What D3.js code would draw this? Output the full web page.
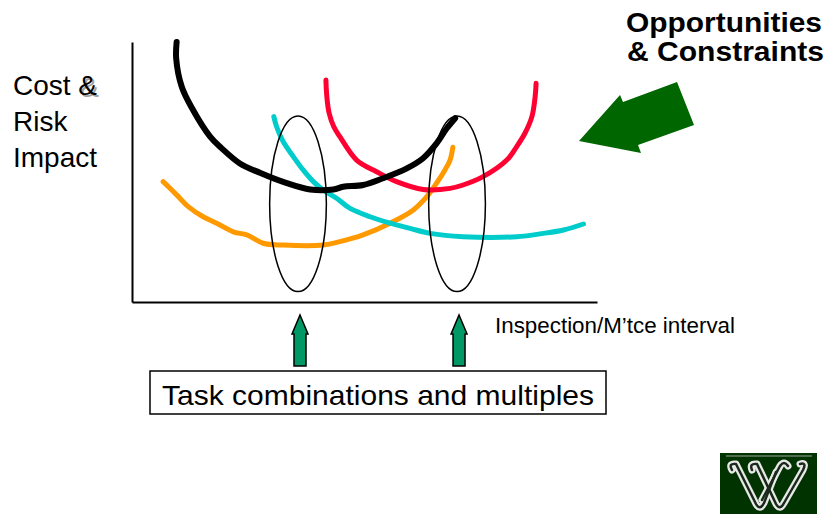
<!DOCTYPE html>
<html>
<head>
<meta charset="utf-8">
<script src="https://cdn.jsdelivr.net/npm/d3@7"></script>
<style>
  body { margin: 0; background: #fff; }
  text { font-family: "Liberation Sans", Arial, sans-serif; }
  .amp { text-shadow: 2px 2px 0 #a0a0a0; }
</style>
</head>
<body>
<script>
// curve data, interval (x) vs cost & risk impact (y), both 0..100
const blackX = [9.6, 9.5, 10.7, 12.8, 16.8, 19.3, 23.2, 27.5, 33.3, 38.3, 43.3, 45.4, 49.7, 54.0, 59.1, 62.6, 65.5, 67.7, 69.5]
const blackY = [100, 93.7, 82.8, 74.9, 63.6, 59.1, 53.3, 49.7, 45.7, 43.3, 43.3, 44.3, 45.0, 47.6, 51.4, 55.3, 61.0, 66.8, 70.7]

const redX = [41.7, 41.9, 42.4, 43.4, 44.7, 48.3, 52.6, 56.9, 62.6, 68.4, 71.2, 75.5, 80.6, 82.7, 84.5, 86.0, 86.7, 86.9]
const redY = [85.4, 79.0, 72.6, 67.4, 63.6, 54.6, 50.1, 46.3, 43.3, 43.7, 45.0, 48.2, 54.6, 59.7, 64.9, 71.3, 79.0, 84.1]

const cyanX = [30.5, 31.1, 32.5, 34.7, 36.8, 39.0, 41.1, 44.0, 46.9, 51.2, 55.5, 59.8, 64.1, 71.2, 82.7, 88.5, 92.8, 97.1]
const cyanY = [71.3, 67.4, 61.7, 55.9, 50.8, 46.3, 43.1, 39.9, 36.0, 32.8, 30.3, 28.3, 26.4, 25.1, 25.1, 26.4, 27.7, 30.0]

const orangeX = [6.7, 9.6, 12.1, 15.3, 18.2, 21.8, 24.7, 28.2, 32.5, 41.1, 44.7, 49.7, 55.5, 60.5, 63.4, 65.5, 67.3, 68.4, 69.0]
const orangeY = [46.3, 41.2, 36.7, 32.8, 30.3, 27.0, 25.8, 22.6, 21.9, 21.9, 23.2, 25.8, 30.3, 35.4, 40.5, 45.7, 50.8, 54.6, 59.5]

// task combination intervals (ellipse centres), ellipse spread
const taskX = [35.7, 69.9]
const taskYRange = [4, 71.5]
const taskHalfWidth = 6.1

const seriesColors = ['#000000', '#ff0033', '#00cccc', '#ff9900']

const margin = {top: 42, right: 229, bottom: 213, left: 132}
, width = 826 - margin.left - margin.right
, height = 515 - margin.top - margin.bottom

const svg = d3.select('body').append('svg')
    .attr('width', 826)
    .attr('height', 515)

const xScale = d3.scaleLinear().domain([0, 100]).range([margin.left, margin.left + width])
const yScale = d3.scaleLinear().domain([0, 100]).range([margin.top + height, margin.top])

// axes, no ticks
svg.append('g')
    .attr('transform', 'translate(0,' + (margin.top + height) + ')')
    .call(d3.axisBottom(xScale).tickValues([]).tickSizeOuter(0))
    .select('.domain').attr('stroke-width', 2)

svg.append('g')
    .attr('transform', 'translate(' + margin.left + ',0)')
    .call(d3.axisLeft(yScale).tickValues([]).tickSizeOuter(0))
    .select('.domain').attr('stroke-width', 2)

const line = d3.line()
    .x(d => xScale(d[0]))
    .y(d => yScale(d[1]))
    .curve(d3.curveCatmullRom.alpha(0.5))

const series = [
  {xs: orangeX, ys: orangeY, color: seriesColors[3], w: 5},
  {xs: cyanX, ys: cyanY, color: seriesColors[2], w: 5},
  {xs: redX, ys: redY, color: seriesColors[1], w: 5},
  {xs: blackX, ys: blackY, color: seriesColors[0], w: 6}
]

svg.selectAll('.curve').data(series)
  .enter()
  .append('path')
    .attr('class', 'curve')
    .attr('d', s => line(s.xs.map((x, i) => [x, s.ys[i]])))
    .attr('fill', 'none')
    .attr('stroke', s => s.color)
    .attr('stroke-width', s => s.w)
    .attr('stroke-linejoin', 'round')
    .attr('stroke-linecap', 'round')

// ellipses around the task combinations
svg.selectAll('.task').data(taskX)
  .enter()
  .append('ellipse')
    .attr('class', 'task')
    .attr('cx', d => xScale(d))
    .attr('cy', yScale((taskYRange[0] + taskYRange[1]) / 2))
    .attr('rx', xScale(taskHalfWidth) - xScale(0))
    .attr('ry', (yScale(taskYRange[0]) - yScale(taskYRange[1])) / 2)
    .attr('fill', 'none')
    .attr('stroke', '#000')
    .attr('stroke-width', 1.5)

// small up arrows under each ellipse
const arrowPath = function(cx) {
  const tip = 315, bottom = 366, headBase = 334
  return 'M' + cx + ',' + tip +
    'L' + (cx + 8) + ',' + headBase +
    'L' + (cx + 6) + ',' + headBase +
    'L' + (cx + 6) + ',' + bottom +
    'L' + (cx - 6) + ',' + bottom +
    'L' + (cx - 6) + ',' + headBase +
    'L' + (cx - 8) + ',' + headBase + 'Z'
}
svg.selectAll('.up').data(taskX)
  .enter()
  .append('path')
    .attr('class', 'up')
    .attr('d', d => arrowPath(xScale(d) + 2))
    .attr('fill', '#009966')
    .attr('stroke', '#000')
    .attr('stroke-width', 1.5)

// box label
svg.append('rect')
    .attr('x', 150).attr('y', 371)
    .attr('width', 456).attr('height', 43)
    .attr('fill', '#fff')
    .attr('stroke', '#000')
    .attr('stroke-width', 1.5)

svg.append('text')
    .attr('x', 162).attr('y', 405)
    .attr('textLength', 432).attr('lengthAdjust', 'spacingAndGlyphs')
    .style('font-size', '28px')
    .text('Task combinations and multiples')

svg.append('text')
    .attr('x', 495).attr('y', 333)
    .attr('textLength', 240).attr('lengthAdjust', 'spacingAndGlyphs')
    .style('font-size', '22px')
    .text('Inspection/M\u2019tce interval')

// y label, grey shadow behind the ampersand
const yLab = svg.append('g').style('font-size', '28px')
const costLine = yLab.append('text')
    .attr('x', 13).attr('y', 95)
costLine.append('tspan').text('Cost ')
costLine.append('tspan').attr('class', 'amp').text('&')
yLab.append('text')
    .attr('x', 13).attr('y', 131)
    .text('Risk')
yLab.append('text')
    .attr('x', 13).attr('y', 167)
    .text('Impact')

// opportunities & constraints
svg.append('text')
    .attr('x', 626).attr('y', 32)
    .attr('textLength', 196).attr('lengthAdjust', 'spacingAndGlyphs')
    .style('font-size', '27px').style('font-weight', 'bold')
    .text('Opportunities')
svg.append('text')
    .attr('x', 627).attr('y', 61)
    .attr('textLength', 197).attr('lengthAdjust', 'spacingAndGlyphs')
    .style('font-size', '27px').style('font-weight', 'bold')
    .text('& Constraints')

svg.append('path')
    .attr('d', 'M579,141L620,95L623,102L677,82L694,125L638,145L641,153Z')
    .attr('fill', '#006600')

// logo
const logo = svg.append('g')
logo.append('rect')
    .attr('x', 720).attr('y', 453)
    .attr('width', 97).attr('height', 61)
    .attr('fill', '#003300')
logo.append('line')
    .attr('x1', 726).attr('x2', 812).attr('y1', 456).attr('y2', 456)
    .attr('stroke', '#9aa89a').attr('stroke-width', 1)
const links = [
  'M732,470 Q728,463 736,464 L756,504 Q760,511 764,503 L776,472',
  'M752,470 Q749,463 757,464 L776,504 Q780,511 784,503 L803,470 Q807,462 800,464',
  'M762,500 L780,466 Q784,460 788,466'
]
logo.selectAll('.lo').data(links).enter().append('path')
    .attr('d', d => d).attr('fill', 'none')
    .attr('stroke', '#e8e8e8').attr('stroke-width', 7)
    .attr('stroke-linecap', 'round').attr('stroke-linejoin', 'round')
logo.selectAll('.li').data(links).enter().append('path')
    .attr('d', d => d).attr('fill', 'none')
    .attr('stroke', '#1a2a1a').attr('stroke-width', 2.5)
    .attr('stroke-linecap', 'round').attr('stroke-linejoin', 'round')
</script>
</body>
</html>
